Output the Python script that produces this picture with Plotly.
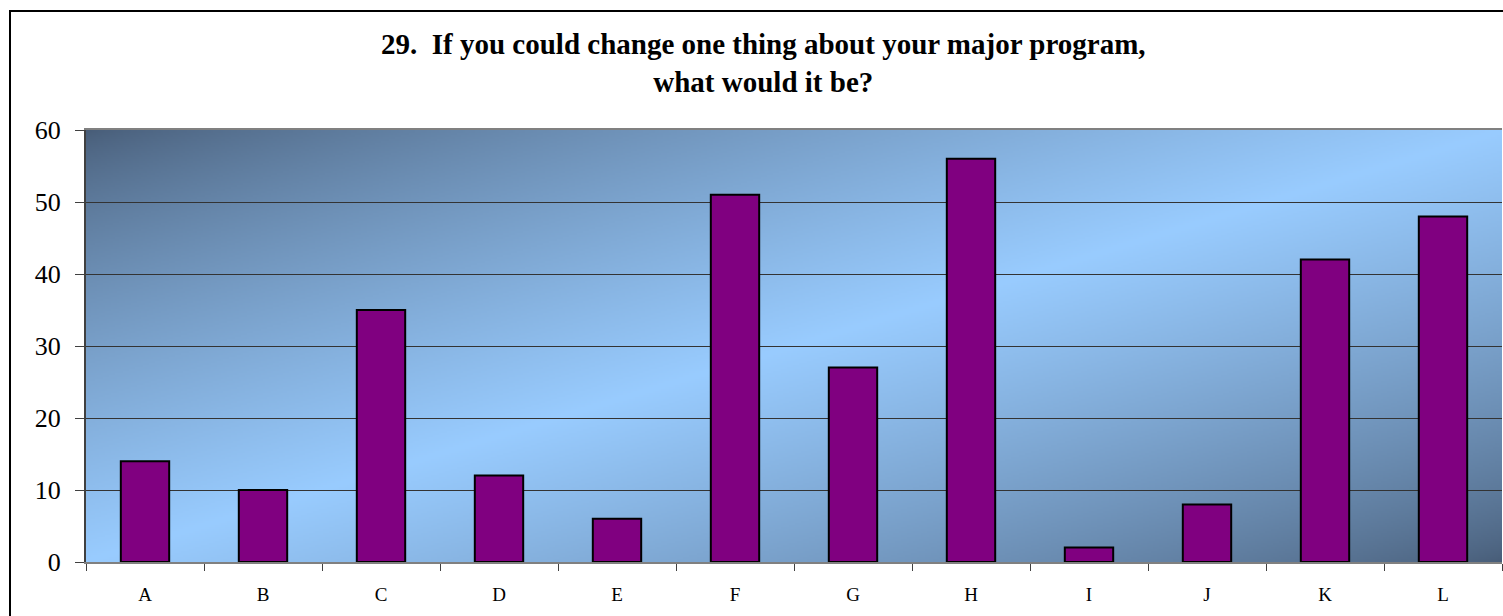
import base64, struct, zlib
import numpy as np
import plotly.graph_objects as go

categories = ["A", "B", "C", "D", "E", "F", "G", "H", "I", "J", "K", "L"]
values = [14, 10, 35, 12, 6, 51, 27, 56, 2, 8, 42, 48]
y_ticks = [0, 10, 20, 30, 40, 50, 60]
title_lines = ["29.\u00a0\u00a0If you could change one thing about your major program,",
               "what would it be?"]

# ---- gradient background image (diagonal dark -> light -> dark) ----
def make_png(arr):
    h, w, _ = arr.shape
    raw = b"".join(b"\x00" + arr[r].tobytes() for r in range(h))
    def chunk(tag, data):
        c = struct.pack(">I", len(data)) + tag + data
        return c + struct.pack(">I", zlib.crc32(tag + data) & 0xFFFFFFFF)
    png = b"\x89PNG\r\n\x1a\n"
    png += chunk(b"IHDR", struct.pack(">IIBBBBB", w, h, 8, 2, 0, 0, 0))
    png += chunk(b"IDAT", zlib.compress(raw, 9))
    png += chunk(b"IEND", b"")
    return "data:image/png;base64," + base64.b64encode(png).decode()

W, H = 708, 216
u = np.linspace(0, 1, W)[None, :]
v = np.linspace(0, 1, H)[:, None]
t = (u + v) / 2.0
s = 1 - np.abs(2 * t - 1)
f = s ** 0.75
dark = np.array([72, 93, 120], dtype=float)
light = np.array([153, 204, 255], dtype=float)
img = dark[None, None, :] + (light - dark)[None, None, :] * f[:, :, None]
img = np.clip(img, 0, 255).astype(np.uint8)
bg_src = make_png(img)

# body margin is removed by post_script, so layout uses page coordinates
FW, FH = 1503, 616
L, T = 86, 130
R = FW - 1502
B = FH - 562
PW = FW - L - R
PH = FH - T - B

def py(page_y):
    return (562 - page_y) / PH

def px(page_x):
    return (page_x - L) / PW

fig = go.Figure()
fig.add_trace(go.Bar(
    x=categories, y=values,
    marker=dict(color="#800080", line=dict(color="black", width=2)),
    width=0.41,
))

FONT = "Liberation Serif, Times New Roman, serif"
fig.update_layout(
    width=FW, height=FH,
    margin=dict(l=L, r=R, t=T, b=B, pad=0),
    paper_bgcolor="white",
    plot_bgcolor="rgba(0,0,0,0)",
    showlegend=False,
    font=dict(family=FONT, color="black"),
    images=[dict(source=bg_src, xref="paper", yref="paper", x=0, y=1,
                 sizex=1, sizey=1, sizing="stretch", xanchor="left",
                 yanchor="top", layer="below")],
    annotations=[dict(text="<b>" + "<br>".join(title_lines) + "</b>",
                      xref="paper", yref="paper",
                      x=px(763.5), y=py(63),
                      xanchor="center", yanchor="middle", showarrow=False,
                      font=dict(size=29, family=FONT),
                      align="center")],
    shapes=[dict(type="rect", xref="paper", yref="paper",
                 x0=px(10), x1=px(1540),
                 y0=py(660), y1=py(11),
                 line=dict(color="black", width=2), fillcolor="rgba(0,0,0,0)",
                 layer="below")],
)

fig.update_xaxes(
    type="category", range=[-0.5, 11.5],
    showgrid=False, zeroline=False,
    showline=True, linecolor="#808080", linewidth=2, mirror=True,
    ticks="outside", ticklen=7, tickcolor="#404040", tickwidth=1,
    tickson="boundaries",
    tickfont=dict(size=19), ticklabelstandoff=14,
)
fig.update_yaxes(
    range=[0, 60], tickvals=y_ticks,
    showgrid=True, gridcolor="#333333", gridwidth=1,
    zeroline=False,
    showline=True, linecolor="#404040", linewidth=2,
    ticks="outside", ticklen=9, tickcolor="#404040", tickwidth=1,
    tickfont=dict(size=26), ticklabelstandoff=9,
)

fig.write_html(
    "out.html",
    config={"displayModeBar": False},
    post_script="document.body.style.margin='0';"
                "document.documentElement.style.overflow='hidden';"
                "document.body.style.overflow='hidden';",
)
